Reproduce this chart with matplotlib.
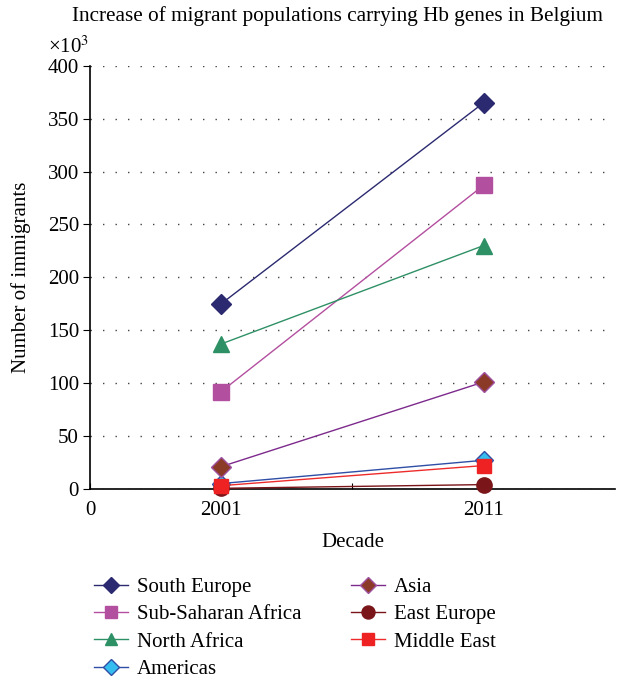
import matplotlib.pyplot as plt

plt.rcParams['font.family'] = ['Liberation Serif', 'DejaVu Serif']
plt.rcParams['mathtext.fontset'] = 'stix'

# values in thousands of people, x positions are category slots
years = ['2001', '2011']
x_pos = [1, 3]
south_europe = [175, 365]
sub_saharan = [92, 287]
north_africa = [137, 230]
americas = [5, 27]
asia = [21, 101]
east_europe = [0.5, 4]
middle_east = [3, 22]

fig = plt.figure(figsize=(6.21, 6.78), dpi=100)
ax = fig.add_axes([0.145, 0.279, 0.845, 0.624])

series = [
    ('South Europe', south_europe, 'D', '#2b2a70', '#2b2a70', '#2b2a70', 10),
    ('Sub-Saharan Africa', sub_saharan, 's', '#b34f9f', '#b34f9f', '#b34f9f', 11),
    ('North Africa', north_africa, '^', '#2e9065', '#2e9065', '#2e9065', 11),
    ('Americas', americas, 'D', '#2f4ea6', '#36bdf0', '#2f4ea6', 9),
    ('Asia', asia, 'D', '#7d2a8c', '#8b3a28', '#a050a0', 10),
    ('East Europe', east_europe, 'o', '#7a1519', '#7a1519', '#7a1519', 11),
    ('Middle East', middle_east, 's', '#ee2b2b', '#ee2222', '#ee2222', 10),
]

for name, vals, mk, lc, fc, ec, ms in series:
    ax.plot(x_pos, vals, color=lc, lw=1.0, marker=mk, markersize=ms,
            markerfacecolor=fc, markeredgecolor=ec, markeredgewidth=1.0,
            label=name, clip_on=False, zorder=3)

ax.set_xlim(0, 4)
ax.set_ylim(0, 400)
ax.set_yticks(range(0, 401, 50))
ax.set_xticks([0, 1, 2, 3])
ax.set_xticklabels(['0', years[0], '', years[1]])
ax.tick_params(axis='x', direction='in', length=4, labelsize=15, pad=9)
ax.tick_params(axis='y', direction='out', length=5, labelsize=15, pad=3)

ax.yaxis.grid(True, linestyle=(0, (1, 8)), color='#444444', lw=1.0)
ax.set_axisbelow(True)
for side in ('top', 'right'):
    ax.spines[side].set_visible(False)
ax.spines['left'].set_linewidth(1.2)
ax.spines['bottom'].set_linewidth(1.2)

ax.set_xlabel('Decade', fontsize=15, labelpad=9)
ax.set_ylabel('Number of immigrants', fontsize=15, labelpad=12)

ax.text(-0.08, 1.02, r'×10$^3$', transform=ax.transAxes,
        fontsize=15, ha='left', va='bottom')
fig.text(0.543, 0.976, 'Increase of migrant populations carrying Hb genes in Belgium',
         ha='center', va='center', fontsize=15.3)

ax.legend(loc='upper left', bbox_to_anchor=(-0.008, -0.19), ncol=2,
          frameon=False, fontsize=15, handlelength=1.6, handletextpad=0.45,
          columnspacing=2.4, labelspacing=0.37, borderaxespad=0,
          markerscale=0.85)

fig.savefig('out.png', dpi=100)
